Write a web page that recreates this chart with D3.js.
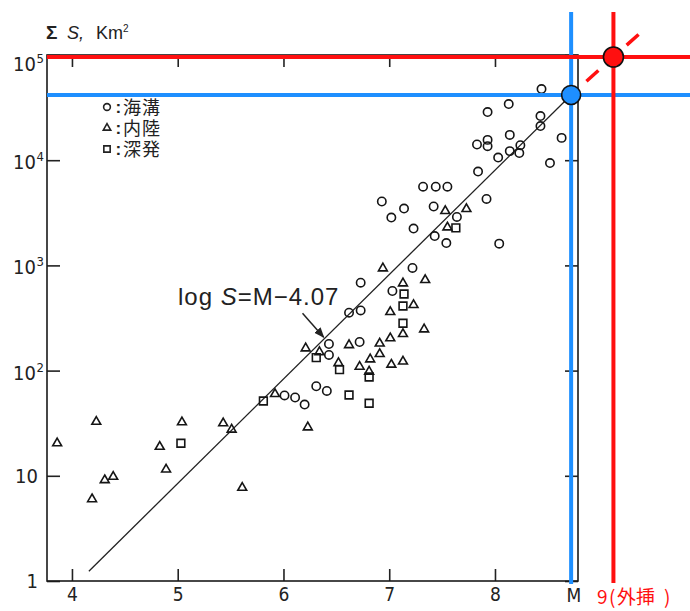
<!DOCTYPE html>
<html><head><meta charset="utf-8">
<script src="https://cdn.jsdelivr.net/npm/d3@7"></script>
<style>
html,body{margin:0;padding:0;background:#fff;}
svg{display:block;}
</style></head>
<body>
<script>
// ---- data (M, S in km²) ----
const xTicks = [4, 5, 6, 7, 8];
const yTicks = [1, 10, 100, 1000, 10000, 100000];
const legendLabels = ["海溝", "内陸", "深発"];

const trench = [ // ○ 海溝
  [8.44,47500],[8.13,34200],[7.93,28700],[8.43,26300],[8.43,21100],[8.63,16300],
  [8.14,17400],[7.93,15600],[7.93,13600],[7.83,14100],[8.24,13900],[8.23,11700],
  [8.14,12200],[8.03,10600],[8.52,9400],[7.84,7800],[7.32,5600],[7.44,5600],
  [7.55,5600],[6.93,4050],[7.14,3470],[7.42,3630],[7.92,4280],[7.02,2850],
  [7.23,2240],[7.64,2890],[7.43,1900],[7.54,1630],[8.04,1610],[7.22,945],
  [6.73,685],[7.03,571],[6.62,355],[6.73,373],[6.43,179],[6.43,141],[6.72,187],
  [6.31,71],[6.41,64],[6.01,58],[6.11,55.5],[6.20,47.6]
];
const inland = [ // △ 内陸
  [3.86,20.4],[4.23,32.7],[4.19,6.0],[4.31,9.1],[4.39,9.8],[4.83,18.9],[4.89,11.5],
  [5.04,32.3],[5.43,31.6],[5.51,27.5],[5.61,7.7],[5.92,60],[6.23,28.9],[6.21,163],
  [6.34,150],[6.62,175],[6.91,181],[7.01,203],[6.91,144],[6.82,128],[6.72,109],
  [6.52,118],[7.02,114],[7.13,122],[6.81,98],[6.94,938],[7.34,727],[7.13,676],
  [7.23,421],[7.01,361],[7.13,223],[7.33,247],[7.53,3290],[7.73,3440],[7.55,2300]
];
const deep = [ // □ 深発
  [5.03,20.4],[5.81,51.4],[6.31,133],[6.53,102],[6.62,58.6],[6.81,87],[6.81,48.9],
  [7.14,535],[7.13,411],[7.13,282],[7.63,2270]
];
// regression line log S = M - 4.07 (as drawn)
const fitLine = [[4.16, 1.24], [8.72, 41700]];
const bluePoint = [8.72, 41700];   // end of fit within data
const redPoint = [9.12, 95700];    // extrapolated M=9
const arrowPts = [[6.18, 351], [6.38, 208]];

// ---- layout ----
const W = 690, H = 611;
const x = d3.scaleLinear().domain([3.764, 8.785]).range([47, 578]);
const y = d3.scaleLog().domain([1, 1e5]).range([581, 55]);
const numFont = "'DejaVu Sans Condensed','DejaVu Sans',sans-serif";
const latFont = "'Liberation Sans',Arial,sans-serif";
const cjkFont = "'Noto Sans CJK JP','Noto Sans CJK SC',sans-serif";
const BLUE = "#1e8fff", RED = "#ff1010";

const svg = d3.select("body").append("svg").attr("width", W).attr("height", H);
svg.append("rect").attr("width", W).attr("height", H).attr("fill", "#fff");

const x0 = x.range()[0], x1 = x.range()[1], y0 = y.range()[0], y1 = y.range()[1];

// axes (inward ticks)
function styleAxis(g) {
  g.select(".domain").remove();
  g.selectAll(".tick line").attr("stroke", "#222").attr("stroke-width", 1.6);
}
svg.append("g").attr("transform", `translate(0,${y0})`)
  .call(d3.axisBottom(x).tickValues(xTicks).tickSize(-12).tickPadding(7).tickFormat(d3.format("d")))
  .call(styleAxis)
  .call(g => g.selectAll("text").attr("font-family", numFont).attr("font-size", 19).attr("fill", "#222"));
svg.append("g").attr("transform", `translate(0,${y1})`)
  .call(d3.axisTop(x).tickValues(xTicks).tickSize(-12).tickFormat(""))
  .call(styleAxis);
svg.append("g").attr("transform", `translate(${x0},0)`)
  .call(d3.axisLeft(y).tickValues(yTicks).tickSize(-13).tickFormat(""))
  .call(styleAxis);
svg.append("g").attr("transform", `translate(${x1},0)`)
  .call(d3.axisRight(y).tickValues(yTicks).tickSize(-13).tickFormat(""))
  .call(styleAxis);

// frame
svg.append("rect").attr("x", x0).attr("y", y1).attr("width", x1 - x0).attr("height", y0 - y1)
  .attr("fill", "none").attr("stroke", "#1a1a1a").attr("stroke-width", 1.6);

// x axis "M" label
svg.append("text").attr("x", x1 - 4).attr("y", y0 + 21).attr("text-anchor", "middle")
  .attr("font-family", numFont).attr("font-size", 19).attr("fill", "#222").text("M");

// y labels
yTicks.forEach(v => {
  const e = Math.round(Math.log10(v));
  const cy = y(v) + (e === 5 ? 9 : (e >= 2 ? 2 : 0));
  const t = svg.append("text").attr("font-family", numFont).attr("font-size", 20).attr("fill", "#222")
    .attr("y", cy + 7);
  if (e === 0) { t.attr("x", 38).attr("text-anchor", "end").text("1"); }
  else if (e === 1) { t.attr("x", 38).attr("text-anchor", "end").text("10"); }
  else {
    t.attr("x", 36).attr("text-anchor", "end").text("10");
    svg.append("text").attr("x", 36.5).attr("y", cy - 1).attr("font-family", numFont)
      .attr("font-size", 13).attr("fill", "#222").text(e);
  }
});

// title
const title = svg.append("text").attr("y", 39).attr("fill", "#222").attr("font-family", latFont).attr("font-size", 18);
title.append("tspan").attr("x", 46).attr("font-weight", "bold").attr("font-size", 19).text("Σ");
title.append("tspan").attr("x", 67).attr("font-style", "italic").text("S,");
title.append("tspan").attr("x", 96).text("Km");
title.append("tspan").attr("font-size", 10).attr("dy", -7).text("2");

// regression line
svg.append("path").datum(fitLine)
  .attr("d", d3.line().x(d => x(d[0])).y(d => y(d[1])))
  .attr("stroke", "#222").attr("stroke-width", 1.3).attr("fill", "none");

// data symbols
const sym = {
  circle: d3.symbol().type(d3.symbolCircle).size(55),
  tri: d3.symbol().type(d3.symbolTriangle).size(34),
  sq: d3.symbol().type(d3.symbolSquare).size(60)
};
function plot(data, s) {
  svg.append("g").selectAll("path").data(data).join("path")
    .attr("transform", d => `translate(${x(d[0])},${y(d[1])})`)
    .attr("d", s).attr("fill", "none").attr("stroke", "#151515").attr("stroke-width", 1.6);
}
plot(trench, sym.circle());
plot(inland, sym.tri());
plot(deep, sym.sq());

// legend
const legSyms = [d3.symbol().type(d3.symbolCircle).size(36), d3.symbol().type(d3.symbolTriangle).size(24), d3.symbol().type(d3.symbolSquare).size(40)];
const legY = [107, 128, 149];
legendLabels.forEach((lab, i) => {
  svg.append("path").attr("transform", `translate(107,${legY[i]})`).attr("d", legSyms[i]())
    .attr("fill", "none").attr("stroke", "#222").attr("stroke-width", 1.6);
});
const legText = svg.append("text").attr("fill", "#222");
legendLabels.forEach((lab, i) => {
  legText.append("tspan").attr("x", 115.5).attr("y", legY[i] + 6)
    .attr("font-family", latFont).attr("font-weight", "bold").attr("font-size", 17).text(":");
  legText.append("tspan").attr("x", 123).attr("y", legY[i] + 7)
    .attr("font-family", cjkFont).attr("font-size", 18).attr("letter-spacing", 1).text(lab);
});

// annotation
svg.append("text").attr("x", 178).attr("y", 305).attr("font-family", latFont)
  .attr("font-size", 24).attr("letter-spacing", 1).attr("fill", "#222")
  .call(t => { t.append("tspan").text("log "); t.append("tspan").attr("font-style", "italic").text("S"); t.append("tspan").text("=M−4.07"); });
const defs = svg.append("defs");
defs.append("marker").attr("id", "ah").attr("viewBox", "0 0 10 10").attr("refX", 9).attr("refY", 5)
  .attr("markerWidth", 7).attr("markerHeight", 7).attr("orient", "auto")
  .append("path").attr("d", "M0,1 L10,5 L0,9 Z").attr("fill", "#222");
svg.append("path").datum(arrowPts)
  .attr("d", d3.line().x(d => x(d[0])).y(d => y(d[1])))
  .attr("stroke", "#222").attr("stroke-width", 1.5).attr("marker-end", "url(#ah)");

// guide lines
const bx = x(bluePoint[0]), by = y(bluePoint[1]);
const rx = x(redPoint[0]), ry = y(redPoint[1]);
svg.append("line").attr("x1", x0).attr("x2", W).attr("y1", by).attr("y2", by).attr("stroke", BLUE).attr("stroke-width", 4);
svg.append("line").attr("x1", bx).attr("x2", bx).attr("y1", 12).attr("y2", y0 + 3).attr("stroke", BLUE).attr("stroke-width", 4);
svg.append("line").attr("x1", x0).attr("x2", W).attr("y1", ry).attr("y2", ry).attr("stroke", RED).attr("stroke-width", 4);
svg.append("line").attr("x1", rx).attr("x2", rx).attr("y1", 12).attr("y2", y0 + 2).attr("stroke", RED).attr("stroke-width", 4);

// red dashed extrapolation
const dx = rx - bx, dy = ry - by, len = Math.hypot(dx, dy);
const ux = dx / len, uy = dy / len, ext = 90.6;
svg.append("line").attr("x1", bx).attr("y1", by).attr("x2", bx + ux * ext).attr("y2", by + uy * ext)
  .attr("stroke", RED).attr("stroke-width", 3.5).attr("stroke-dasharray", "16,11").attr("stroke-dashoffset", 6.4);

svg.append("circle").attr("cx", bx).attr("cy", by).attr("r", 9.5).attr("fill", BLUE).attr("stroke", "#111").attr("stroke-width", 1.6);
svg.append("circle").attr("cx", rx).attr("cy", ry).attr("r", 10).attr("fill", RED).attr("stroke", "#111").attr("stroke-width", 1.6);

// red label
const rl = svg.append("text").attr("y", 604).attr("font-family", cjkFont).attr("font-size", 19).attr("fill", RED);
rl.append("tspan").attr("x", 597).text("9");
rl.append("tspan").attr("x", 609).text("(");
rl.append("tspan").attr("x", 617).text("外挿");
rl.append("tspan").attr("x", 664).text(")");
</script>
</body></html>
